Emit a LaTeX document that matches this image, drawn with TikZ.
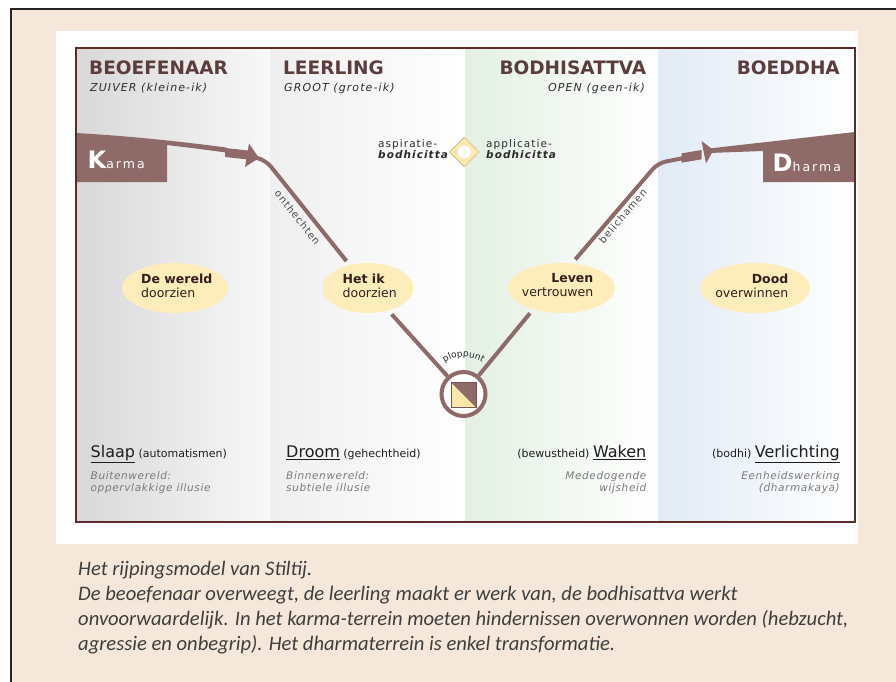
\documentclass[tikz,border=0pt]{standalone}
\usepackage{fontspec}
\setmainfont{DejaVu Sans}
\newfontfamily\spc{DejaVu Sans}[LetterSpace=10]
\newfontfamily\gspc{DejaVu Sans}[LetterSpace=6]
\newfontfamily\wspc{DejaVu Sans}[LetterSpace=16]
\newfontfamily\capfont{Carlito}
\usetikzlibrary{shapes.geometric,decorations.text}
\definecolor{beige}{HTML}{F5E8DA}
\definecolor{brn}{HTML}{8E6B69}
\definecolor{hdrc}{HTML}{5B3D3D}
\definecolor{subc}{HTML}{2E2E2E}
\definecolor{frm}{HTML}{5E2B2B}
\definecolor{elly}{HTML}{FCEDBB}
\definecolor{ytxt}{HTML}{3A1C1C}
\definecolor{gtxt}{HTML}{7A7A7A}
\definecolor{dtxt}{HTML}{2A2A2A}
\definecolor{btxt}{HTML}{1E1E1E}
\definecolor{labc}{HTML}{4A4A4A}
\definecolor{zA}{HTML}{D8D8D8}
\definecolor{zAr}{HTML}{F8F8F8}
\definecolor{zB}{HTML}{EFEFEF}
\definecolor{zC}{HTML}{E3F0E3}
\definecolor{zD}{HTML}{E1EAF6}
\definecolor{dia}{HTML}{FDE8AE}
\definecolor{diab}{HTML}{D9C28E}
\definecolor{sqy}{HTML}{FCE6A8}
\definecolor{capc}{HTML}{3E3E3E}
\newcommand\bigw[1]{{\fontsize{16}{17}\selectfont\underline{#1}}}
\newcommand\smw[1]{{\fontsize{11}{12}\selectfont #1}}
\begin{document}
\begin{tikzpicture}[x=1pt,y=-1pt,
  hdl/.style={anchor=base west,inner sep=0,text=hdrc,font=\fontsize{18.5}{20}\selectfont\bfseries},
  hdrt/.style={hdl,anchor=base east},
  subl/.style={anchor=base west,inner sep=0,text=subc,font=\fontsize{11}{12}\selectfont\spc\itshape},
  subr/.style={subl,anchor=base east},
  ell/.style={ellipse,fill=elly,inner sep=0,minimum height=50},
  etxt/.style={inner sep=0,text=ytxt,font=\fontsize{12.5}{14}\selectfont},
  grl/.style={anchor=north west,align=left,inner sep=0,text=gtxt,font=\fontsize{10.5}{12.5}\selectfont\gspc\itshape},
  grr/.style={grl,anchor=north east,align=right},
  btm/.style={inner sep=0,text=btxt},
  conn/.style={draw=brn,line width=4},
  lab/.style={inner sep=1,text=labc,font=\fontsize{10}{12}\selectfont\spc,sloped},
  dlab/.style={anchor=north west,align=left,inner sep=0,text=dtxt,font=\fontsize{10.5}{11.5}\selectfont\spc},
  captxt/.style={anchor=base west,inner sep=0,text=capc,font=\fontsize{20.6}{25}\selectfont\capfont\itshape},
  kd/.style={anchor=base west,inner sep=0,text=white}]
\clip (0,0) rectangle (896,682);
\fill[white] (0,0) rectangle (896,682);
\filldraw[fill=beige,draw=black!85,line width=2] (11,9) rectangle (910,700);
\fill[white] (56,31) rectangle (858,544);
% zones
\shade[left color=zA,right color=zAr] (76,48) rectangle (270,522);
\shade[left color=zB,right color=white] (270,48) rectangle (465,522);
\shade[left color=zC,right color=white] (465,48) rectangle (658,522);
\shade[left color=zD,right color=white] (658,48) rectangle (855,522);
% headers
\node[hdl] (h1) at (89,75) {BEOEFENAAR};
\node[hdl] (h2) at (283,75) {LEERLING};
\node[hdrt] (h3) at (646.5,75) {BODHISATTVA};
\node[hdrt] (h4) at (840,75) {BOEDDHA};
\node[subl] (s1) at (90,92) {ZUIVER (kleine-ik)};
\node[subl] (s2) at (284,92) {GROOT (grote-ik)};
\node[subr] (s3) at (645,92) {OPEN (geen-ik)};
% karma
\fill[brn] (76,133) .. controls (130,136) and (185,142) .. (226,147.5) -- (226,152.5) .. controls (200,149) .. (167,145) -- (167,182) -- (76,182) -- cycle;
\fill[brn] (225,148) -- (248,150.5) -- (248,159.5) -- (225,157) -- cycle;
\fill[brn] (249,143.5) -- (259,158) -- (245,167) -- cycle;
\node[kd] (karma) at (87.5,168) {{\fontsize{24}{24}\selectfont\bfseries K}{\fontsize{12.5}{14}\selectfont\wspc arma}};
% dharma
\fill[brn] (709,148.5) -- (855,132) -- (855,182) -- (763,182) -- (763,151) -- (709,153) -- cycle;
\fill[brn] (681.7,153.3) -- (701.7,150) -- (701.7,159.3) -- (681.7,162.7) -- cycle;
\fill[brn] (701.5,141) -- (713.5,150) -- (706,163.5) -- cycle;
\node[kd] (dharma) at (772.5,171) {{\fontsize{24}{24}\selectfont\bfseries D}{\fontsize{12.5}{14}\selectfont\wspc harma}};
% frame
\draw[frm,line width=2.5] (76,48) rectangle (855,522);
% ellipses
\node[ell,minimum width=106] (wereld) at (175,288) {};
\node[ell,minimum width=91] (hetik) at (368,288) {};
\node[ell,minimum width=107] (leven) at (561.5,288) {};
\node[ell,minimum width=110] (dood) at (755,288) {};
\node[etxt,anchor=north west,align=left] (t1) at (141,274) {\textbf{De wereld}\\doorzien};
\node[etxt,anchor=north west,align=left] (t2) at (342.5,273.5) {\textbf{Het ik}\\doorzien};
\node[etxt,anchor=north east,align=right] (t3) at (593.5,273.5) {\textbf{Leven}\\vertrouwen};
\node[etxt,anchor=north east,align=right] (t4) at (788.5,274) {\textbf{Dood}\\overwinnen};
% connectors
\coordinate (ktip) at (250,156);
\coordinate (C1) at (266,160.5);
\coordinate (C2) at (658,163);
\coordinate (dstart) at (684,158);
\node[circle,draw=brn,line width=4,fill=white,minimum size=44,inner sep=0] (plop) at (463.5,394) {};
\draw[conn,rounded corners=8,shorten >=5pt] (ktip) -- (C1) -- node[lab,below=4pt,pos=0.48] (onth) {onthechten} (hetik);
\draw[conn,shorten <=5pt] (hetik) -- (plop);
\draw[conn,shorten >=5pt] (plop) -- (leven.217);
\draw[conn,rounded corners=8,shorten <=5pt] (leven.67) -- node[lab,below=1pt,pos=0.52] (belich) {belichamen} (C2) -- (dstart);
% square in circle
\fill[sqy] (451,382.5) -- (451,407.5) -- (476,407.5) -- cycle;
\fill[brn] (451,382.5) -- (476,382.5) -- (476,407.5) -- cycle;
\draw[frm!80,line width=0.8] (451,382.5) rectangle (476,407.5);
\path[decorate,decoration={text along path,text={|\fontsize{9}{9}\selectfont|ploppunt},text align=center,text color=dtxt}] (441,366) .. controls (452,354) and (475,354) .. (486,366);
% diamond
\node[diamond,fill=dia,draw=diab,line width=0.8,minimum width=30,minimum height=30,inner sep=0] (bodhi) at (464.3,152) {};
\node[circle,fill=white,minimum size=13,inner sep=0] (bodhic) at (bodhi.center) {};
\node[dlab] (asp) at (378,139) {aspiratie-\\\textbf{\textit{bodhicitta}}};
\node[dlab] (app) at (486,139) {applicatie-\\\textbf{\textit{bodhicitta}}};
% bottom
\node[btm,anchor=base west] (slaap) at (90.5,457.5) {\bigw{Slaap}\smw{\ (automatismen)}};
\node[btm,anchor=base west] (droom) at (286,457.5) {\bigw{Droom}\smw{\ (gehechtheid)}};
\node[btm,anchor=base east] (waken) at (646.5,457.5) {\smw{(bewustheid)\ }\bigw{Waken}};
\node[btm,anchor=base east] (verl) at (840,457.5) {\smw{(bodhi)\ }\bigw{Verlichting}};
\node[grl] (g1) at (90.5,471) {Buitenwereld:\\oppervlakkige illusie};
\node[grl] (g2) at (286,471) {Binnenwereld:\\subtiele illusie};
\node[grr] (g3) at (646.5,471) {Mededogende\\wijsheid};
\node[grr] (g4) at (840,471) {Eenheidswerking\\(dharmakaya)};
% caption
\node[captxt] (c1) at (78,575) {Het rijpingsmodel van Stiltij.};
\node[captxt] (c2) at (78,600) {De beoefenaar overweegt, de leerling maakt er werk van, de bodhisattva werkt};
\node[captxt] (c3) at (78,625) {onvoorwaardelijk. In het karma-terrein moeten hindernissen overwonnen worden (hebzucht,};
\node[captxt] (c4) at (78,650) {agressie en onbegrip). Het dharmaterrein is enkel transformatie.};
\end{tikzpicture}
\end{document}
